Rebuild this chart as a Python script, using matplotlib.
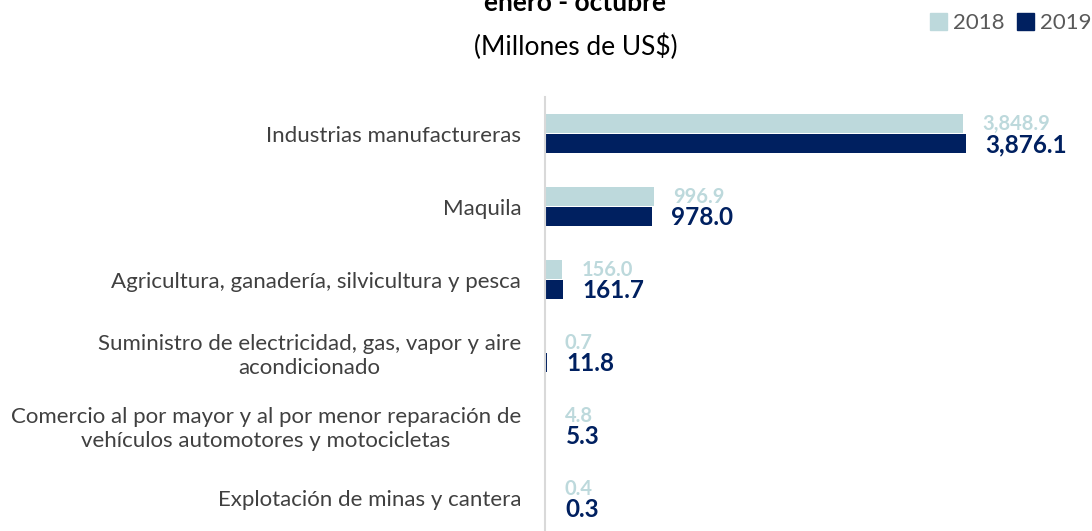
import matplotlib
matplotlib.use("Agg")
import matplotlib.pyplot as plt
from matplotlib.patches import Patch

plt.rcParams['font.family'] = ['Lato', 'DejaVu Sans']

categories = [
    "Industrias manufactureras",
    "Maquila",
    "Agricultura, ganadería, silvicultura y pesca",
    "Suministro de electricidad, gas, vapor y aire\nacondicionado",
    "Comercio al por mayor y al por menor reparación de\nvehículos automotores y motocicletas",
    "Explotación de minas y cantera",
]
values_2018 = [3848.9, 996.9, 156.0, 0.7, 4.8, 0.4]
values_2019 = [3876.1, 978.0, 161.7, 11.8, 5.3, 0.3]
labels_2018 = ["3,848.9", "996.9", "156.0", "0.7", "4.8", "0.4"]
labels_2019 = ["3,876.1", "978.0", "161.7", "11.8", "5.3", "0.3"]
series_names = ["2018", "2019"]

c18 = "#BDD9DC"
c19 = "#002060"

fig = plt.figure(figsize=(10.92, 5.31), dpi=100)
ax = fig.add_axes([0.4995, -0.0075, 0.497, 0.8248])

pos = list(range(len(categories)))
h = 0.26
off = 0.135
y18 = [p - off for p in pos]
y19 = [p + off for p in pos]
ax.barh(y18, values_2018, height=h, color=c18)
ax.barh(y19, values_2019, height=h, color=c19)

for y, v, t in zip(y18, values_2018, labels_2018):
    ax.annotate(t, (v, y), xytext=(14, 0), textcoords="offset points",
                ha="left", va="center", fontsize=14.5, fontweight="bold", color=c18)
for y, v, t in zip(y19, values_2019, labels_2019):
    ax.annotate(t, (v, y), xytext=(14, -1), textcoords="offset points",
                ha="left", va="center", fontsize=17.5, fontweight="bold", color=c19)

ax.set_xlim(0, 5000)
ax.set_ylim(len(categories) - 0.5, -0.5)
ax.set_yticks(pos)
ax.set_yticklabels(categories, fontsize=16, color="#404040")
for lbl in ax.get_yticklabels():
    lbl.set_multialignment("center")
    lbl.set_linespacing(1.25)
ax.tick_params(axis="y", length=0, pad=17.5)
ax.set_xticks([])
for s in ["top", "right", "bottom"]:
    ax.spines[s].set_visible(False)
ax.spines["left"].set_color("#D9D9D9")
ax.spines["left"].set_linewidth(1.5)

fig.text(0.527, 0.994, "enero - octubre", ha="center", va="center",
         fontsize=19, fontweight="bold", color="#000000")
fig.text(0.527, 0.912, "(Millones de US$)", ha="center", va="center",
         fontsize=19, color="#000000")

handles = [Patch(color=c18), Patch(color=c19)]
fig.legend(handles, series_names, loc="center right", bbox_to_anchor=(1.002, 0.956),
           ncol=2, frameon=False, fontsize=16, labelcolor="#595959",
           handlelength=0.75, handleheight=0.75, handletextpad=0.3,
           columnspacing=0.55, borderaxespad=0.0, borderpad=0.1)

fig.savefig("out.png", dpi=100)
